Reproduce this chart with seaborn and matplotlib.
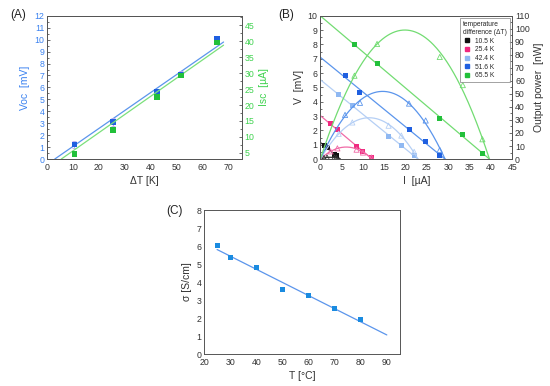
import numpy as np
import pandas as pd
import matplotlib
matplotlib.use("Agg")
import matplotlib.pyplot as plt
from matplotlib.ticker import MultipleLocator
from matplotlib.lines import Line2D
import seaborn as sns

sns.set_theme(style="white")
plt.rcParams['font.family'] = ['Liberation Sans', 'DejaVu Sans']

# ---------------- Data ----------------
# Panel A
dT = [10.5, 25.4, 42.4, 51.6, 65.5]
voc = [1.2, 3.1, 5.6, 7.1, 10.05]
voc_err = [0.3, 0.3, 0.3, 0.25, 0.3]
isc = [4.7, 12.1, 22.5, 29.3, 39.5]
# linear fits as drawn in the figure (slope, intercept) and their x-range end
voc_fit = [0.1508, -0.45]
isc_fit = [0.570, -0.04]
fit_x_end = 68

# Panel B
series_labels = ["10.5 K", "25.4 K", "42.4 K", "51.6 K", "65.5 K"]
I_vals = [
    [0.87, 1.57, 3.3, 3.75],
    [2.4, 4.0, 8.5, 10.0, 12.0],
    [4.3, 7.5, 16.0, 19.0, 22.0],
    [5.8, 9.3, 20.8, 24.7, 28.0],
    [8.0, 13.3, 28.0, 33.4, 38.0],
]
V_vals = [
    [0.93, 0.79, 0.33, 0.23],
    [2.45, 2.05, 0.85, 0.5, 0.1],
    [4.5, 3.75, 1.6, 0.95, 0.25],
    [5.85, 4.65, 2.05, 1.2, 0.25],
    [8.0, 6.65, 2.8, 1.7, 0.4],
]
P_vals = [
    [0.8, 1.2, 1.1, 0.9],
    [5.9, 8.2, 7.2, 5.0, 1.2],
    [19.4, 28.1, 25.6, 18.0, 5.5],
    [33.9, 43.2, 42.6, 29.6, 7.0],
    [64.0, 88.4, 78.4, 56.8, 15.2],
]

# Panel C
T_c = [25, 30, 40, 50, 60, 70, 80]
sigma = [6.02, 5.35, 4.8, 3.6, 3.25, 2.55, 1.92]

# ---------------- Styles ----------------
blue_pt = "#1f5fe0"
blue_ln = "#5b95ec"
green_pt = "#22c03a"
green_ln = "#7be07b"
lab_blue = "#3b82f0"
lab_green = "#3fd24f"
ser_pt = ["#111111", "#f0287f", "#8fb8f2", "#1f5fe0", "#22c03a"]
ser_ln = ["#333333", "#f06aa6", "#b5cff5", "#5b95ec", "#72dc72"]
spine_c = "#555555"
tick_fs = 6.3
lab_fs = 7.5

fig = plt.figure(figsize=(5.5, 3.86), dpi=100)


def style_axes(ax):
    for s in ax.spines.values():
        s.set_color(spine_c)
        s.set_linewidth(0.7)
    ax.tick_params(which='both', direction='in', top=False, right=False,
                   labelsize=tick_fs, color=spine_c, width=0.6, pad=2,
                   labelcolor="#333333")
    ax.tick_params(axis='x', which='both', pad=3)
    ax.tick_params(which='major', length=2.5)
    ax.tick_params(which='minor', length=1.5)
    ax.grid(False)


# ---------------- Panel A ----------------
axA = fig.add_axes([0.0855, 0.588, 0.354, 0.371])
style_axes(axA)
xa = np.linspace(-voc_fit[1] / voc_fit[0], fit_x_end, 50)
sns.lineplot(x=xa, y=np.polyval(voc_fit, xa), ax=axA, color=blue_ln, lw=0.9)
axA.errorbar(dT, voc, yerr=voc_err, fmt='none', ecolor="#b8a8f0", elinewidth=0.8,
             capsize=1.5, capthick=0.6, zorder=3)
sns.scatterplot(x=dT, y=voc, ax=axA, marker='s', s=16, color=blue_pt,
                edgecolor='none', zorder=4)
axA.set_xlim(0, 75)
axA.set_ylim(0, 12)
axA.xaxis.set_major_locator(MultipleLocator(10))
axA.xaxis.set_minor_locator(MultipleLocator(5))
axA.yaxis.set_major_locator(MultipleLocator(1))
axA.yaxis.set_minor_locator(MultipleLocator(0.5))
axA.tick_params(axis='y', labelcolor=lab_blue)
axA.set_xlabel("ΔT [K]", fontsize=lab_fs, color="#333333", labelpad=3)
axA.set_ylabel("Voc  [mV]", fontsize=lab_fs, color=lab_blue, labelpad=3)

axA2 = axA.twinx()
style_axes(axA2)
ylo = 3.1
xg = np.linspace((ylo - isc_fit[1]) / isc_fit[0], fit_x_end, 50)
sns.lineplot(x=xg, y=np.polyval(isc_fit, xg), ax=axA2, color=green_ln, lw=0.9)
sns.scatterplot(x=dT, y=isc, ax=axA2, marker='s', s=16, color=green_pt,
                edgecolor='none', zorder=4)
axA2.set_ylim(ylo, 47.9)
axA2.yaxis.set_major_locator(MultipleLocator(5))
axA2.yaxis.set_minor_locator(MultipleLocator(2.5))
axA2.tick_params(axis='y', labelcolor=lab_green, left=False, right=True, which='both')
axA2.set_ylabel("Isc  [µA]", fontsize=lab_fs, color=lab_green, labelpad=3)

# ---------------- Panel B ----------------
axB = fig.add_axes([0.5824, 0.588, 0.349, 0.371])
style_axes(axB)
axB2 = axB.twinx()
style_axes(axB2)
for k in range(5):
    I = np.array(I_vals[k]); V = np.array(V_vals[k])
    p = np.polyfit(I, V, 1)
    i0 = -p[1] / p[0]
    ig = np.linspace(0, i0, 200)
    sns.lineplot(x=ig, y=np.polyval(p, ig), ax=axB, color=ser_ln[k], lw=0.9)
    sns.lineplot(x=ig, y=ig * np.polyval(p, ig), ax=axB2, color=ser_ln[k], lw=0.9)
    sns.scatterplot(x=I, y=V, ax=axB, marker='s', s=13, color=ser_pt[k],
                    edgecolor='none', zorder=4)
    sns.scatterplot(x=I, y=P_vals[k], ax=axB2, marker='^', s=14,
                    facecolor='none', edgecolor=ser_ln[k], linewidth=0.6, zorder=4)
axB.set_xlim(0, 45)
axB.set_ylim(0, 10)
axB.xaxis.set_major_locator(MultipleLocator(5))
axB.xaxis.set_minor_locator(MultipleLocator(2.5))
axB.yaxis.set_major_locator(MultipleLocator(1))
axB.yaxis.set_minor_locator(MultipleLocator(0.5))
axB.set_xlabel("I  [µA]", fontsize=lab_fs, color="#333333", labelpad=3)
axB.set_ylabel("V  [mV]", fontsize=lab_fs, color="#333333", labelpad=3)
axB2.set_ylim(0, 110)
axB2.yaxis.set_major_locator(MultipleLocator(10))
axB2.yaxis.set_minor_locator(MultipleLocator(5))
axB2.tick_params(axis='y', left=False, right=True, which='both')
axB2.set_ylabel("Output power  [nW]", fontsize=lab_fs, color="#333333", labelpad=3)
handles = [Line2D([], [], marker='s', ls='none', color=ser_pt[k], markersize=3.2)
           for k in range(5)]
leg = axB2.legend(handles, series_labels, title="temperature\ndifference (ΔT)",
                  loc='upper right', fontsize=4.8, title_fontsize=4.8,
                  frameon=True, fancybox=False, borderpad=0.4, labelspacing=0.25,
                  handletextpad=0.6, handlelength=1.2, borderaxespad=0.4)
leg._legend_box.align = "left"
leg.get_frame().set_edgecolor("#777777")
leg.get_frame().set_linewidth(0.6)

# ---------------- Panel C ----------------
axC = fig.add_axes([0.371, 0.0829, 0.356, 0.373])
style_axes(axC)
pC = np.polyfit(T_c, sigma, 1)
xc = np.linspace(25, 90, 50)
sns.lineplot(x=xc, y=np.polyval(pC, xc), ax=axC, color=blue_ln, lw=0.9)
sns.scatterplot(x=T_c, y=sigma, ax=axC, marker='s', s=14, color="#1a8be0",
                edgecolor='none', zorder=4)
axC.set_xlim(20, 95)
axC.set_ylim(0, 8)
axC.xaxis.set_major_locator(MultipleLocator(10))
axC.xaxis.set_minor_locator(MultipleLocator(5))
axC.yaxis.set_major_locator(MultipleLocator(1))
axC.yaxis.set_minor_locator(MultipleLocator(0.5))
axC.set_xlabel("T [°C]", fontsize=lab_fs, color="#333333", labelpad=3)
axC.set_ylabel("σ [S/cm]", fontsize=lab_fs, color="#333333", labelpad=3)

# Panel labels
fig.text(10 / 550, 1 - 15 / 386, "(A)", fontsize=8.5, va='center', ha='left', color="#222222")
fig.text(278 / 550, 1 - 15 / 386, "(B)", fontsize=8.5, va='center', ha='left', color="#222222")
fig.text(166 / 550, 1 - 211 / 386, "(C)", fontsize=8.5, va='center', ha='left', color="#222222")

fig.savefig("out.png", dpi=100)
